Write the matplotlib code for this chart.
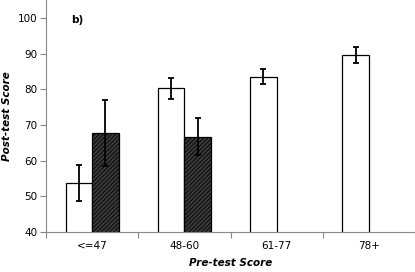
import matplotlib
matplotlib.use("Agg")
import matplotlib.pyplot as plt
import numpy as np

plt.rcParams['hatch.linewidth'] = 0.6

categories = ["<=47", "48-60", "61-77", "78+"]
white_vals = [53.7, 80.3, 83.6, 89.6]
white_err = [5.0, 3.0, 2.2, 2.2]
dark_vals = [67.8, 66.7, np.nan, np.nan]
dark_err = [9.2, 5.2, np.nan, np.nan]
yticks = [40, 50, 60, 70, 80, 90, 100]

fig = plt.figure(figsize=(4.15, 2.72), dpi=100)
ax = fig.add_axes([46/415, 40.3/272, 369/415, 231.7/272])

x = np.arange(len(categories))
w = 0.287
ax.bar(x - w/2, white_vals, width=w, color='white', edgecolor='black', linewidth=0.9, zorder=2)
mask = np.array([not np.isnan(v) for v in dark_vals])
xd = x[mask] + w/2
dvals = np.array(dark_vals)[mask]
ax.bar(xd, dvals, width=w, color='#3a3a3a', edgecolor='black', hatch='////////', linewidth=0.9, zorder=2)
ax.errorbar(x - w/2, white_vals, yerr=white_err, fmt='none', ecolor='black', elinewidth=1.3, capsize=2.5, capthick=1.3, zorder=3)
ax.errorbar(xd, dvals, yerr=np.array(dark_err)[mask], fmt='none', ecolor='black', elinewidth=1.3, capsize=2.5, capthick=1.3, zorder=3)

ax.set_xlim(-0.5, 3.5)
ax.set_ylim(40, 40 + 231.7/3.556)
ax.set_yticks(yticks)
ax.set_yticklabels([str(t) for t in yticks], fontsize=7.5)
ax.set_xticks(x)
ax.set_xticklabels(categories, fontsize=7.5)
ax.tick_params(axis='x', length=0, pad=7)
ax.tick_params(axis='y', length=4, width=0.8, color='#888888', pad=2)
ax.set_xticks([-0.5, 0.5, 1.5, 2.5, 3.5], minor=True)
ax.tick_params(axis='x', which='minor', length=4, width=0.8, color='#888888')

for s in ['top', 'right']:
    ax.spines[s].set_visible(False)
for s in ['left', 'bottom']:
    ax.spines[s].set_color('#888888')
    ax.spines[s].set_linewidth(0.8)

ax.set_xlabel("Pre-test Score", fontsize=7.5, fontweight='bold', fontstyle='italic', labelpad=5)
ax.set_ylabel("Post-test Score", fontsize=7.5, fontweight='bold', fontstyle='italic', labelpad=4)
ax.text(25/369, 1 - 20/231.7, "b)", transform=ax.transAxes, fontsize=7.5, fontweight='bold', va='center', ha='left')

fig.savefig("out.png", dpi=100)
